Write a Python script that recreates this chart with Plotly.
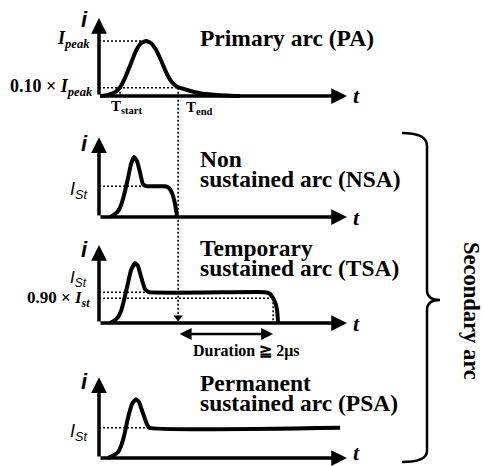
import plotly.graph_objects as go

W, H = 484, 466

# ---------------- data (time in arbitrary units, current relative) ----------
t_pa = [0.04, 0.36, 0.65, 0.85, 1.05, 1.25, 1.49, 1.69, 1.90, 2.10, 2.30, 2.50, 2.74, 2.94, 3.19, 3.55, 4.07, 4.76, 5.69]
i_pa = [0.00, 0.02, 0.07, 0.16, 0.33, 0.55, 0.82, 0.96, 1.00, 0.96, 0.84, 0.65, 0.40, 0.25, 0.16, 0.11, 0.05, 0.02, 0.00]

t_nsa = [0.44, 0.60, 0.77, 0.89, 1.01, 1.17, 1.29, 1.41, 1.53, 1.65, 1.77, 1.90, 2.66, 2.82, 2.94, 3.06, 3.15]
i_nsa = [0.00, 0.04, 0.11, 0.22, 0.40, 0.71, 0.96, 1.09, 1.02, 0.82, 0.60, 0.56, 0.56, 0.53, 0.44, 0.25, 0.00]

t_tsa = [0.44, 0.60, 0.77, 0.89, 1.01, 1.17, 1.29, 1.45, 1.57, 1.69, 1.85, 2.02, 6.69, 6.90, 7.06, 7.18, 7.22]
i_tsa = [0.00, 0.04, 0.11, 0.22, 0.42, 0.73, 0.96, 1.09, 1.04, 0.85, 0.62, 0.56, 0.56, 0.53, 0.42, 0.24, 0.00]

t_psa = [0.36, 0.56, 0.77, 0.89, 1.01, 1.17, 1.33, 1.49, 1.61, 1.73, 1.90, 2.02, 9.72]
i_psa = [0.00, 0.04, 0.11, 0.22, 0.40, 0.73, 0.98, 1.07, 1.02, 0.87, 0.65, 0.55, 0.55]

i_peak, t_peak = 1.00, 1.90
pa_level = 0.15          # level drawn as 0.10 x Ipeak
t_start, t_end = 0.85, 3.19
ist_nsa, t_ist_nsa = 0.56, 1.77
ist_tsa, t_ist_tsa = 0.56, 2.02
ist90_tsa, t_ist90_tsa = 0.45, 7.02
ist_psa, t_ist_psa = 0.55, 2.02
t_axis_end = 10.0
i_axis_top = [1.42, 1.45, 1.42, 1.47]

titles = [["Primary arc (PA)"],
          ["Non", "sustained arc (NSA)"],
          ["Temporary", "sustained arc (TSA)"],
          ["Permanent", "sustained arc (PSA)"]]

# ---------------- layout geometry (pixels) ----------------------------------
X0_PX, PX_PER_T = 99.0, 24.8
PX_PER_I = 55.0
BASE_PX = [96, 217, 323, 458]
Y_LO = [-0.12, -0.12, -0.3, -0.12]
Y_HI = 1.5
X_LO, X_HI = -0.6, 11.0


def pxx(x):
    return x / W


def pxy(y):
    return 1 - y / H


fig = go.Figure()
layout = dict(width=W, height=H, margin=dict(l=0, r=0, t=0, b=0),
              paper_bgcolor="white", plot_bgcolor="white", showlegend=False)

xdom = [pxx(X0_PX + X_LO * PX_PER_T), pxx(X0_PX + X_HI * PX_PER_T)]
for k in range(4):
    n = "" if k == 0 else str(k + 1)
    base = BASE_PX[k]
    ydom = [pxy(base - Y_LO[k] * PX_PER_I), pxy(base - Y_HI * PX_PER_I)]
    layout["xaxis" + n] = dict(domain=xdom, range=[X_LO, X_HI], visible=False,
                               anchor="y" + n, fixedrange=True)
    layout["yaxis" + n] = dict(domain=ydom, range=[Y_LO[k], Y_HI], visible=False,
                               anchor="x" + n, fixedrange=True)
fig.update_layout(**layout)


def data_to_paper_y(k, i):
    return pxy(BASE_PX[k] - i * PX_PER_I)


CURVE = dict(color="black", width=4, shape="spline", smoothing=0.35)
DOT = dict(color="black", width=1.6, dash="2px,2px")


def add(k, x, y, line, mode="lines", **kw):
    n = "" if k == 0 else str(k + 1)
    fig.add_trace(go.Scatter(x=x, y=y, mode=mode, line=line, hoverinfo="skip",
                             xaxis="x" + n, yaxis="y" + n, **kw))


# reference dotted lines
add(0, [0, t_peak], [i_peak, i_peak], DOT)
add(0, [0, t_end], [pa_level, pa_level], DOT)
add(0, [t_start, t_start], [pa_level, 0], DOT)
add(1, [0, t_ist_nsa], [ist_nsa, ist_nsa], DOT)
add(2, [0, t_ist_tsa], [ist_tsa, ist_tsa], DOT)
add(2, [0, t_ist90_tsa], [ist90_tsa, ist90_tsa], DOT)
add(2, [t_ist90_tsa, t_ist90_tsa], [ist90_tsa, 0], DOT)
add(3, [0, t_ist_psa], [ist_psa, ist_psa], DOT)

# Tend dotted line through panels
fig.add_shape(type="line", xref="x", yref="paper",
              x0=t_end, x1=t_end,
              y0=data_to_paper_y(0, pa_level), y1=data_to_paper_y(2, 0.12),
              line=dict(color="black", width=1.6, dash="2px,2px"))
add(2, [t_end], [0.1], None, mode="markers",
    marker=dict(symbol="triangle-down", size=8, color="black"))

# waveforms
add(0, t_pa, i_pa, CURVE)
add(1, t_nsa, i_nsa, CURVE)
add(2, t_tsa, i_tsa, CURVE)
add(3, t_psa, i_psa, CURVE)

ann = []
for k in range(4):
    n = "" if k == 0 else str(k + 1)
    # vertical axis
    ann.append(dict(x=0, y=i_axis_top[k], ax=0, ay=0, xref="x" + n, yref="y" + n,
                    axref="x" + n, ayref="y" + n, text="", showarrow=True,
                    arrowhead=2, arrowsize=0.9, arrowwidth=3.5, arrowcolor="black"))
    # horizontal axis
    ann.append(dict(x=t_axis_end, y=0, ax=0, ay=0, xref="x" + n, yref="y" + n,
                    axref="x" + n, ayref="y" + n, text="", showarrow=True,
                    arrowhead=2, arrowsize=0.9, arrowwidth=3.5, arrowcolor="black"))

# duration double arrow
ann.append(dict(x=t_ist90_tsa, y=-0.2, ax=t_end, ay=-0.2, xref="x3", yref="y3",
                axref="x3", ayref="y3", text="", showarrow=True, arrowhead=2,
                arrowside="end+start", arrowsize=1, arrowwidth=2.4, arrowcolor="black"))

SERIF = "Times New Roman, Liberation Serif, serif"
SANS = "Arial, Liberation Sans, sans-serif"


def txt(x, y, s, size, family=SERIF, xa="left", ya="middle", angle=0):
    ann.append(dict(x=pxx(x), y=pxy(y), xref="paper", yref="paper", text=s,
                    showarrow=False, xanchor=xa, yanchor=ya, textangle=angle,
                    font=dict(family=family, size=size, color="black")))


# titles
title_y = [[38], [159, 179], [248, 268], [383, 403]]
for k in range(4):
    for line, y in zip(titles[k], title_y[k]):
        txt(198, y, "<b>" + line + "</b>", 23.5)

# axis labels
i_y = [19, 143, 249, 381]
t_y = [95, 217, 323, 452]
for k in range(4):
    txt(84, i_y[k], "<b><i>i</i></b>", 22, SANS, xa="center")
    txt(351, t_y[k], "<b><i>t</i></b>", 22, SERIF)

txt(92, 40, "<b><i>I<sub>peak</sub></i></b>", 18, xa="right")
txt(95, 87, "<b>0.10 × <i>I<sub>peak</sub></i></b>", 18, xa="right")
txt(109, 107, "<b>T<sub>start</sub></b>", 15)
txt(184, 108, "<b>T<sub>end</sub></b>", 15)
txt(89, 190, "<i>I<sub>St</sub></i>", 18, SANS, xa="right")
txt(89, 279, "<i>I<sub>St</sub></i>", 17, SANS, xa="right")
txt(92, 299, "<b>0.90 × <i>I<sub>st</sub></i></b>", 17, xa="right")
txt(89, 432, "<i>I<sub>St</sub></i>", 18, SANS, xa="right")
txt(246, 351, "<b>Duration ≧ 2μs</b>", 16, xa="center")
txt(472, 311, "<b>Secondary arc</b>", 22.5, xa="center", angle=90)

fig.update_layout(annotations=ann)

# brace
pts = [(402, 133), (427, 133), (427, 146), (427, 290), (427, 300), (440, 300),
       (427, 300), (427, 310), (427, 451), (427, 462), (402, 462)]
P = [(pxx(a), pxy(b)) for a, b in pts]
path = ("M {0[0]},{0[1]} Q {1[0]},{1[1]} {2[0]},{2[1]} L {3[0]},{3[1]} "
        "Q {4[0]},{4[1]} {5[0]},{5[1]} Q {6[0]},{6[1]} {7[0]},{7[1]} "
        "L {8[0]},{8[1]} Q {9[0]},{9[1]} {10[0]},{10[1]}").format(*P)
fig.add_shape(type="path", xref="paper", yref="paper", path=path,
              line=dict(color="black", width=2.5))

fig.write_html("out.html")
